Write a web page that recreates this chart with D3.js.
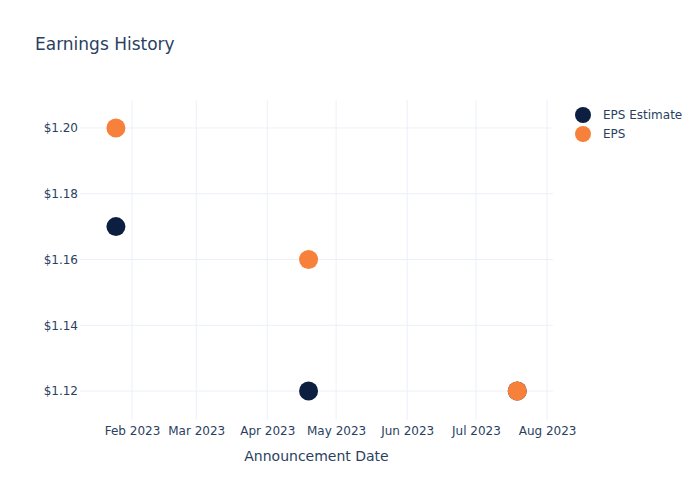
<!DOCTYPE html>
<html><head><meta charset="utf-8">
<script src="https://cdn.jsdelivr.net/npm/d3@7"></script>
<style>body{margin:0;background:#fff}svg{font-family:"DejaVu Sans",Verdana,sans-serif}</style>
</head><body><svg id="c" width="700" height="500"></svg>
<script>
const dates = ["2023-01-25", "2023-04-19", "2023-07-19"];
const epsEstimate = [1.17, 1.12, 1.12];
const eps = [1.20, 1.16, 1.12];
const yTicks = [1.12, 1.14, 1.16, 1.18, 1.20];
const xTicks = ["2023-02-01","2023-03-01","2023-04-01","2023-05-01","2023-06-01","2023-07-01","2023-08-01"];
const seriesNames = ["EPS Estimate", "EPS"];
const colors = ["#0c1f40", "#f7813a"];

const svg = d3.select("#c");
const m = {l:80, r:147, t:100, b:80};
const W = 700, H = 500;
const FONT = '"DejaVu Sans",Verdana,sans-serif';
const parse = d3.utcParse("%Y-%m-%d");
const x = d3.scaleUtc().domain([new Date(Date.UTC(2023,0,9,8)), new Date(Date.UTC(2023,7,3,14))]).range([m.l, W-m.r]);
const y = d3.scaleLinear().domain([1.1112, 1.2085]).range([H-m.b, m.t]);
const txt = "#2a3f5f", grid = "#ebf0f8";

svg.append("text").attr("x",35).attr("y",50).attr("fill",txt).attr("font-size",17).text("Earnings History");

const g = svg.append("g");
g.selectAll(".vg").data(xTicks).join("line")
 .attr("x1",d=>x(parse(d))).attr("x2",d=>x(parse(d))).attr("y1",m.t).attr("y2",H-m.b)
 .attr("stroke",grid).attr("stroke-width",1);
g.selectAll(".hg").data(yTicks).join("line")
 .attr("x1",m.l).attr("x2",W-m.r).attr("y1",d=>y(d)).attr("y2",d=>y(d))
 .attr("stroke",grid).attr("stroke-width",1);

const xAxis = d3.axisBottom(x).tickValues(xTicks.map(parse)).tickFormat(d3.utcFormat("%b %Y")).tickSize(0).tickPadding(6);
const xa = svg.append("g").attr("transform",`translate(0,${H-m.b})`).call(xAxis);
xa.attr("font-family",FONT).attr("font-size",12);
xa.select(".domain").remove();
xa.selectAll("text").attr("fill",txt);

const yAxis = d3.axisLeft(y).tickValues(yTicks).tickFormat(d=>"$"+d3.format(".2f")(d)).tickSize(0).tickPadding(2);
const ya = svg.append("g").attr("transform",`translate(${m.l},0)`).call(yAxis);
ya.attr("font-family",FONT).attr("font-size",12);
ya.select(".domain").remove();
ya.selectAll("text").attr("fill",txt);

svg.append("text").attr("x",(m.l+W-m.r)/2).attr("y",461).attr("text-anchor","middle")
 .attr("fill",txt).attr("font-size",14).text("Announcement Date");

const series = [epsEstimate, eps];
series.forEach((vals,i)=>{
  svg.append("g").selectAll("circle").data(vals).join("circle")
   .attr("cx",(d,j)=>x(parse(dates[j]))).attr("cy",d=>y(d)).attr("r",9.5)
   .attr("fill",colors[i]);
});

const lg = svg.append("g");
seriesNames.forEach((n,i)=>{
  lg.append("circle").attr("cx",583).attr("cy",115+i*19).attr("r",8).attr("fill",colors[i]);
  lg.append("text").attr("x",603).attr("y",119+i*19).attr("fill",txt).attr("font-size",12).text(n);
});
</script></body></html>
